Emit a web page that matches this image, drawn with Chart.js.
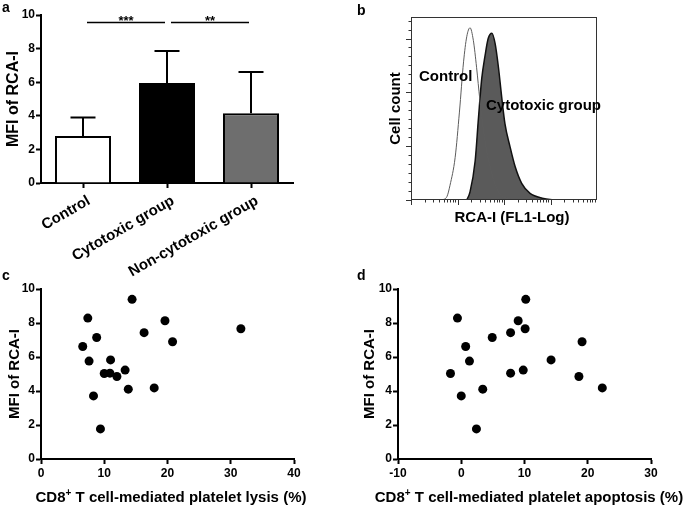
<!DOCTYPE html>
<html>
<head>
<meta charset="utf-8">
<script src="https://cdn.jsdelivr.net/npm/chart.js@4.4.0/dist/chart.umd.min.js"></script>
<style>
  body { margin: 0; background: #fff; }
  #fig { position: relative; width: 697px; height: 506px; overflow: hidden; background: #fff;
         font-family: "Liberation Sans", Arial, sans-serif; font-weight: bold; color: #000; }
  #fig canvas { position: absolute; }
  .txt { position: absolute; line-height: 1; white-space: nowrap; }
  .ctr { transform: translateX(-50%); }
  sup { font-size: 10px; line-height: 0; vertical-align: 6px; }
</style>
</head>
<body>
<div id="fig">
  <canvas id="chartC" width="350" height="256" style="left:0;top:250px"></canvas>
  <canvas id="chartD" width="347" height="256" style="left:350px;top:250px"></canvas>
  <canvas id="chartA" width="340" height="290" style="left:0;top:0"></canvas>
  <canvas id="chartB" width="327" height="250" style="left:370px;top:0"></canvas>
  <div class="txt" style="left:2px;top:0;font-size:14px">a</div>
  <div class="txt" style="left:357px;top:3px;font-size:14px">b</div>
  <div class="txt" style="left:2px;top:268px;font-size:14px">c</div>
  <div class="txt" style="left:357px;top:268px;font-size:14px">d</div>
  <div class="txt" style="left:419px;top:68px;font-size:15px">Control</div>
  <div class="txt" style="left:486px;top:97px;font-size:15px">Cytotoxic group</div>
  <div class="txt ctr" style="left:512px;top:209px;font-size:15px">RCA-I (FL1-Log)</div>
  <div class="txt ctr" style="left:171px;top:489px;font-size:15px">CD8<sup>+</sup> T cell-mediated platelet lysis (%)</div>
  <div class="txt ctr" style="left:529px;top:489px;font-size:15px">CD8<sup>+</sup> T cell-mediated platelet apoptosis (%)</div>
</div>
<script>
// panel a: bar chart
const groupLabels = ['Control', 'Cytotoxic group', 'Non-cytotoxic group'];
const groupMeans = [2.8, 5.95, 4.15];
const groupSD = [1.1, 1.9, 2.45];
const groupColors = ['#ffffff', '#000000', '#6e6e6e'];
const sigPairs = [[0, 1], [1, 2]];
const sigMarks = ['***', '**'];
const sigLevel = 9.55;

// panel b: flow histogram (FL1 intensity vs cell count)
const controlFluor = [4.6, 5.9, 6.9, 8.9, 11, 13.5, 15.8, 18.6, 21.9, 25.7, 30.2, 38.9, 55, 75.9, 115, 186];
const controlCount = [0, 1.8, 8.2, 23.7, 49, 77, 91, 96, 89, 74, 56, 33, 14.6, 4.5, 0.9, 0];
const cytoFluor = [15.8, 18.6, 24, 28.2, 33.1, 38.9, 45.7, 55, 64.6, 75.9, 89.1, 104.7, 135, 174, 240, 363, 708, 1148];
const cytoCount = [0, 4.5, 21.9, 45.5, 67.4, 80, 90, 93, 87, 74, 57.5, 42.6, 29.6, 18.5, 9.3, 3.7, 0.9, 0];

// panels c, d: MFI of RCA-I vs lysis / apoptosis
const lysisPct = [6.6, 7.4, 7.6, 8.8, 8.3, 9.4, 10.0, 10.9, 11.0, 12.0, 13.3, 13.8, 14.4, 16.3, 17.9, 19.6, 20.8, 31.6];
const lysisMFI = [6.62, 8.29, 5.76, 7.15, 3.71, 1.77, 5.03, 5.05, 5.83, 4.85, 5.23, 4.11, 9.39, 7.43, 4.18, 8.13, 6.90, 7.66];
const apoptosisPct = [-1.7, -0.6, 0.0, 0.7, 1.3, 2.4, 3.4, 4.9, 7.8, 7.8, 9.0, 9.8, 10.1, 10.2, 14.2, 18.6, 19.1, 22.3];
const apoptosisMFI = [5.03, 8.29, 3.71, 6.62, 5.76, 1.77, 4.11, 7.15, 7.43, 5.05, 8.13, 5.23, 7.66, 9.39, 5.83, 4.85, 6.90, 4.18];

const FONT = '"Liberation Sans", Arial, sans-serif';
Chart.defaults.font.family = FONT;
Chart.defaults.font.weight = 'bold';
Chart.defaults.color = '#000';
Chart.defaults.animation = false;
Chart.defaults.plugins.legend.display = false;
Chart.defaults.plugins.tooltip.enabled = false;

const fixW = w => s => { s.width = w; };
const fixH = h => s => { s.height = h; };

const errorBars = {
  id: 'errorBars',
  afterDatasetsDraw(chart) {
    const ctx = chart.ctx, y = chart.scales.y;
    ctx.save();
    ctx.strokeStyle = '#000';
    ctx.lineWidth = 2;
    chart.getDatasetMeta(0).data.forEach((bar, i) => {
      const top = y.getPixelForValue(groupMeans[i] + groupSD[i]);
      ctx.beginPath();
      ctx.moveTo(bar.x, bar.y);
      ctx.lineTo(bar.x, top);
      ctx.moveTo(bar.x - 12.5, top);
      ctx.lineTo(bar.x + 12.5, top);
      ctx.stroke();
    });
    ctx.restore();
  }
};

const sigLines = {
  id: 'sigLines',
  afterDraw(chart) {
    const ctx = chart.ctx, x = chart.scales.x, y = chart.scales.y;
    const ly = y.getPixelForValue(sigLevel);
    ctx.save();
    ctx.strokeStyle = '#000';
    ctx.lineWidth = 1.5;
    ctx.fillStyle = '#000';
    ctx.font = 'bold 13px ' + FONT;
    ctx.textAlign = 'center';
    ctx.textBaseline = 'alphabetic';
    sigPairs.forEach(([a, b], k) => {
      const x1 = x.getPixelForValue(a) + 4, x2 = x.getPixelForValue(b) - 2;
      ctx.beginPath();
      ctx.moveTo(x1, ly);
      ctx.lineTo(x2, ly);
      ctx.stroke();
      ctx.fillText(sigMarks[k], (x1 + x2) / 2, ly + 2);
    });
    ctx.restore();
  }
};

new Chart(document.getElementById('chartA'), {
  type: 'bar',
  data: {
    labels: groupLabels,
    datasets: [{
      data: groupMeans,
      backgroundColor: groupColors,
      borderColor: '#000',
      borderWidth: 2,
      barPercentage: 0.667,
      categoryPercentage: 1
    }]
  },
  options: {
    responsive: false,
    devicePixelRatio: 1,
    layout: { padding: { top: 15, right: 47, left: 0, bottom: 0 } },
    scales: {
      x: {
        afterFit: fixH(107),
        grid: { display: true, drawOnChartArea: false, offset: false, tickLength: 5, tickWidth: 2, tickColor: '#000' },
        border: { color: '#000', width: 2 },
        ticks: { font: { size: 15 }, minRotation: 30, maxRotation: 30, autoSkip: false, padding: 4, labelOffset: 6 }
      },
      y: {
        min: 0, max: 10,
        afterFit: fixW(41),
        grid: { drawOnChartArea: false, tickLength: 5, tickWidth: 2, tickColor: '#000' },
        border: { color: '#000', width: 2 },
        ticks: { stepSize: 2, font: { size: 12 }, padding: 1 },
        title: { display: true, text: 'MFI of RCA-I', font: { size: 16 }, padding: { top: 4, bottom: 0 } }
      }
    }
  },
  plugins: [errorBars, sigLines]
});

// panel b
const histFrame = {
  id: 'histFrame',
  afterDraw(chart) {
    const { ctx, chartArea: a, scales: { x, y } } = chart;
    ctx.save();
    ctx.strokeStyle = '#333';
    ctx.lineWidth = 1;
    ctx.strokeRect(a.left + 0.5, a.top + 0.5, a.width - 1, a.height - 1);
    ctx.beginPath();
    for (let d = 1; d < 10000; d *= 10) {
      for (let m = 1; m <= 9; m++) {
        const px = Math.round(x.getPixelForValue(m * d)) + 0.5;
        const len = m === 1 ? 5 : 2.5;
        ctx.moveTo(px, a.bottom);
        ctx.lineTo(px, a.bottom + len);
      }
    }
    for (let v = 0; v <= 100; v += 5) {
      const py = Math.round(y.getPixelForValue(v)) + 0.5;
      const len = v % 30 === 0 ? 5 : 2.5;
      ctx.moveTo(a.left, py);
      ctx.lineTo(a.left - len, py);
    }
    ctx.stroke();
    ctx.restore();
  }
};

new Chart(document.getElementById('chartB'), {
  type: 'line',
  data: {
    datasets: [
      {
        data: controlFluor.map((v, i) => ({ x: v, y: controlCount[i] })),
        borderColor: '#5c5c5c',
        borderWidth: 1,
        fill: false,
        pointRadius: 0,
        cubicInterpolationMode: 'monotone'
      },
      {
        data: cytoFluor.map((v, i) => ({ x: v, y: cytoCount[i] })),
        borderColor: '#111',
        backgroundColor: '#5a5a5a',
        borderWidth: 1.5,
        fill: 'origin',
        pointRadius: 0,
        cubicInterpolationMode: 'monotone'
      }
    ]
  },
  options: {
    responsive: false,
    devicePixelRatio: 1,
    layout: { padding: { top: 17, right: 100, left: 13, bottom: 20 } },
    scales: {
      x: {
        type: 'logarithmic', min: 1, max: 10000,
        afterFit: fixH(30),
        grid: { display: false },
        border: { display: false },
        ticks: { display: false }
      },
      y: {
        min: 0, max: 102,
        afterFit: fixW(28),
        grid: { display: false },
        border: { display: false },
        ticks: { display: false },
        title: { display: true, text: 'Cell count', font: { size: 15 }, padding: { top: 4, bottom: 0 } }
      }
    }
  },
  plugins: [histFrame]
});

// panels c and d
function scatterPanel(id, xs, ys, xMin, xMax, yAxisW, yTitlePad, padRight) {
  new Chart(document.getElementById(id), {
    type: 'scatter',
    data: {
      datasets: [{
        data: xs.map((v, i) => ({ x: v, y: ys[i] })),
        backgroundColor: '#000',
        borderWidth: 0,
        pointRadius: 4.5
      }]
    },
    options: {
      responsive: false,
      devicePixelRatio: 1,
      layout: { padding: { top: 39, right: padRight, left: 0, bottom: 0 } },
      scales: {
        x: {
          min: xMin, max: xMax,
          afterFit: fixH(47),
          grid: { drawOnChartArea: false, tickLength: 5, tickWidth: 2, tickColor: '#000' },
          border: { color: '#000', width: 2 },
          ticks: { stepSize: 10, font: { size: 12 }, padding: 2 }
        },
        y: {
          min: 0, max: 10,
          afterFit: fixW(yAxisW),
          grid: { drawOnChartArea: false, tickLength: 5, tickWidth: 2, tickColor: '#000' },
          border: { color: '#000', width: 2 },
          ticks: { stepSize: 2, font: { size: 12 }, padding: 1 },
          title: { display: true, text: 'MFI of RCA-I', font: { size: 15 }, padding: { top: yTitlePad, bottom: 0 } }
        }
      }
    }
  });
}

scatterPanel('chartC', lysisPct, lysisMFI, 0, 40, 41, 6, 56);
scatterPanel('chartD', apoptosisPct, apoptosisMFI, -10, 30, 48, 11, 46);
</script>
</body>
</html>
